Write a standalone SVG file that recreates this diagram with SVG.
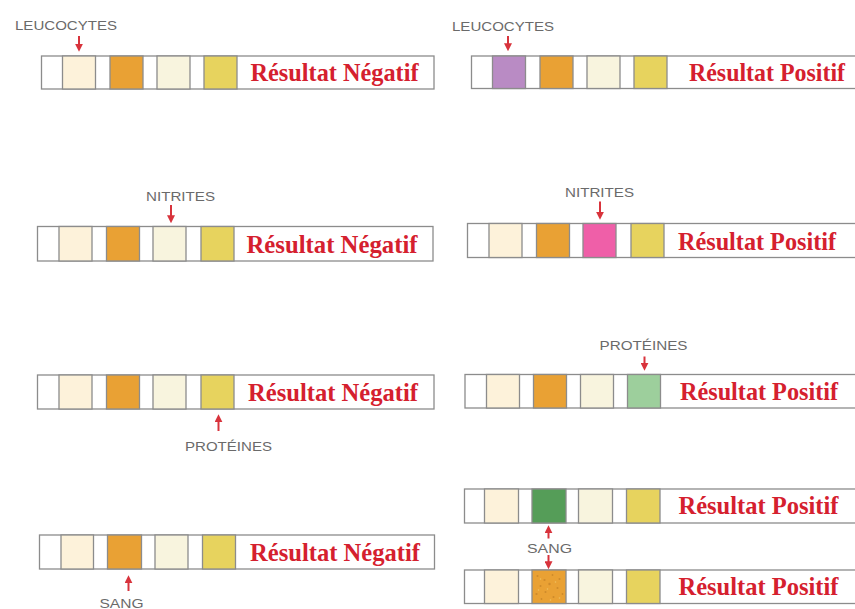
<svg xmlns="http://www.w3.org/2000/svg" width="855" height="609" viewBox="0 0 855 609">
<style>
.strip{fill:#ffffff;stroke:#8c8c8c;stroke-width:1.3}
.pad{stroke:#8c8c8c;stroke-width:1.3}
.p-cream{fill:#fdf2da}
.p-orange{fill:#e9a134}
.p-pale{fill:#f8f4de}
.p-yellow{fill:#e7d35e}
.p-purple{fill:#b98bc4}
.p-pink{fill:#ef5fa8}
.p-lgreen{fill:#9dcf9c}
.p-dgreen{fill:#559d58}
.res{font-family:"Liberation Serif","Times New Roman",serif;font-weight:bold;font-size:25px;fill:#d5202e}
.lbl{font-family:"Liberation Sans",Arial,sans-serif;font-size:12.6px;fill:#6a6a6a}
.arr{stroke:#d8333c;stroke-width:2;fill:none;marker-end:url(#ah)}
</style>
<defs>
<marker id="ah" markerUnits="userSpaceOnUse" markerWidth="8" markerHeight="8" viewBox="0 0 7 7" refX="2" refY="3.5" orient="auto">
<path d="M0,0 L7,3.5 L0,7 z" fill="#d8333c"/>
</marker>
</defs>
<rect width="855" height="609" fill="#ffffff"/>

<g id="strip-leucocytes-negatif" transform="translate(41.5,56)">
<rect class="strip" width="392.5" height="33"/>
<rect class="pad p-cream" x="21" width="33" height="33"/>
<rect class="pad p-orange" x="68.5" width="33" height="33"/>
<rect class="pad p-pale" x="115.5" width="33" height="33"/>
<rect class="pad p-yellow" x="162.5" width="33" height="33"/>
<text class="res" x="209" y="24.5" textLength="168" lengthAdjust="spacingAndGlyphs">Résultat Négatif</text>
</g>

<g id="strip-leucocytes-positif" transform="translate(471.5,56)">
<rect class="strip" width="386" height="32.5"/>
<rect class="pad p-purple" x="21" width="33" height="32.5"/>
<rect class="pad p-orange" x="68.5" width="33" height="32.5"/>
<rect class="pad p-pale" x="115.5" width="33" height="32.5"/>
<rect class="pad p-yellow" x="162.5" width="33" height="32.5"/>
<text class="res" x="217.5" y="24.5" textLength="156" lengthAdjust="spacingAndGlyphs">Résultat Positif</text>
</g>

<g id="strip-nitrites-negatif" transform="translate(37.5,226.5)">
<rect class="strip" width="395.5" height="34.5"/>
<rect class="pad p-cream" x="21.5" width="33" height="34.5"/>
<rect class="pad p-orange" x="69" width="33" height="34.5"/>
<rect class="pad p-pale" x="115.5" width="33" height="34.5"/>
<rect class="pad p-yellow" x="163.5" width="33" height="34.5"/>
<text class="res" x="209" y="26.5" textLength="171" lengthAdjust="spacingAndGlyphs">Résultat Négatif</text>
</g>

<g id="strip-nitrites-positif" transform="translate(467.5,223.5)">
<rect class="strip" width="390" height="34"/>
<rect class="pad p-cream" x="21.5" width="33" height="34"/>
<rect class="pad p-orange" x="69" width="33" height="34"/>
<rect class="pad p-pink" x="115.5" width="33" height="34"/>
<rect class="pad p-yellow" x="163.5" width="33" height="34"/>
<text class="res" x="210.5" y="26" textLength="158" lengthAdjust="spacingAndGlyphs">Résultat Positif</text>
</g>

<g id="strip-proteines-negatif" transform="translate(37.5,375)">
<rect class="strip" width="396.5" height="34"/>
<rect class="pad p-cream" x="21.5" width="33" height="34"/>
<rect class="pad p-orange" x="69" width="33" height="34"/>
<rect class="pad p-pale" x="115.5" width="33" height="34"/>
<rect class="pad p-yellow" x="163.5" width="33" height="34"/>
<text class="res" x="210.5" y="26" textLength="170" lengthAdjust="spacingAndGlyphs">Résultat Négatif</text>
</g>

<g id="strip-proteines-positif" transform="translate(465,374.5)">
<rect class="strip" width="392" height="33.5"/>
<rect class="pad p-cream" x="21.5" width="33" height="33.5"/>
<rect class="pad p-orange" x="68.5" width="33" height="33.5"/>
<rect class="pad p-pale" x="115.5" width="33" height="33.5"/>
<rect class="pad p-lgreen" x="162.5" width="33" height="33.5"/>
<text class="res" x="215" y="25.5" textLength="158" lengthAdjust="spacingAndGlyphs">Résultat Positif</text>
</g>

<g id="strip-sang-negatif" transform="translate(39.5,535)">
<rect class="strip" width="395" height="34"/>
<rect class="pad p-cream" x="21.5" width="32.5" height="34"/>
<rect class="pad p-orange" x="68" width="34" height="34"/>
<rect class="pad p-pale" x="115.5" width="33" height="34"/>
<rect class="pad p-yellow" x="163" width="33" height="34"/>
<text class="res" x="210.5" y="26" textLength="170" lengthAdjust="spacingAndGlyphs">Résultat Négatif</text>
</g>

<g id="strip-sang-positif-a" transform="translate(464.5,489)">
<rect class="strip" width="393" height="34"/>
<rect class="pad p-cream" x="20" width="34" height="34"/>
<rect class="pad p-dgreen" x="67.5" width="34" height="34"/>
<rect class="pad p-pale" x="114" width="34" height="34"/>
<rect class="pad p-yellow" x="162" width="33.5" height="34"/>
<text class="res" x="214" y="25" textLength="160" lengthAdjust="spacingAndGlyphs">Résultat Positif</text>
</g>

<g id="strip-sang-positif-b" transform="translate(464.5,570)">
<rect class="strip" width="393" height="33.5"/>
<rect class="pad p-cream" x="20" width="34" height="33.5"/>
<rect class="pad p-orange" x="67.5" width="34" height="33.5"/>
<g fill="#c8862a" opacity="0.8">
<circle cx="73" cy="6" r="1"/><circle cx="80" cy="10" r="1.1"/><circle cx="88" cy="5" r="0.9"/><circle cx="95" cy="9" r="1"/>
<circle cx="76" cy="16" r="1"/><circle cx="85" cy="14" r="1.2"/><circle cx="93" cy="18" r="1"/><circle cx="98" cy="24" r="0.9"/>
<circle cx="72" cy="24" r="1.1"/><circle cx="81" cy="22" r="1"/><circle cx="89" cy="27" r="1"/><circle cx="77" cy="29" r="0.9"/>
</g>
<g fill="#f2c86a" opacity="0.8">
<circle cx="76" cy="9" r="0.8"/><circle cx="91" cy="12" r="0.8"/><circle cx="83" cy="19" r="0.8"/><circle cx="95" cy="28" r="0.8"/><circle cx="74" cy="20" r="0.8"/><circle cx="86" cy="30" r="0.8"/>
</g>
<rect class="pad p-pale" x="114" width="34" height="33.5"/>
<rect class="pad p-yellow" x="162" width="33.5" height="33.5"/>
<text class="res" x="214" y="25" textLength="160" lengthAdjust="spacingAndGlyphs">Résultat Positif</text>
</g>

<g id="labels">
<text class="lbl" x="15" y="30" textLength="102" lengthAdjust="spacingAndGlyphs">LEUCOCYTES</text>
<text class="lbl" x="452" y="31" textLength="102" lengthAdjust="spacingAndGlyphs">LEUCOCYTES</text>
<text class="lbl" x="146" y="200.5" textLength="69" lengthAdjust="spacingAndGlyphs">NITRITES</text>
<text class="lbl" x="565" y="196.5" textLength="69" lengthAdjust="spacingAndGlyphs">NITRITES</text>
<text class="lbl" x="185" y="450.5" textLength="87" lengthAdjust="spacingAndGlyphs">PROTÉINES</text>
<text class="lbl" x="599.5" y="350" textLength="88" lengthAdjust="spacingAndGlyphs">PROTÉINES</text>
<text class="lbl" x="99.5" y="607.5" textLength="44" lengthAdjust="spacingAndGlyphs">SANG</text>
<text class="lbl" x="527" y="552.5" textLength="45" lengthAdjust="spacingAndGlyphs">SANG</text>
</g>

<g id="connectors">
<line class="arr" x1="79" y1="36" x2="79" y2="46"/>
<line class="arr" x1="508" y1="36" x2="508" y2="45.5"/>
<line class="arr" x1="171" y1="205" x2="171" y2="217.5"/>
<line class="arr" x1="600" y1="201.5" x2="600" y2="214"/>
<line class="arr" x1="218.5" y1="431" x2="218.5" y2="420"/>
<line class="arr" x1="644.5" y1="356.5" x2="644.5" y2="365"/>
<line class="arr" x1="128.5" y1="591" x2="128.5" y2="581"/>
<line class="arr" x1="548.5" y1="538.5" x2="548.5" y2="531"/>
<line class="arr" x1="548.5" y1="555" x2="548.5" y2="563.5"/>
</g>
</svg>
